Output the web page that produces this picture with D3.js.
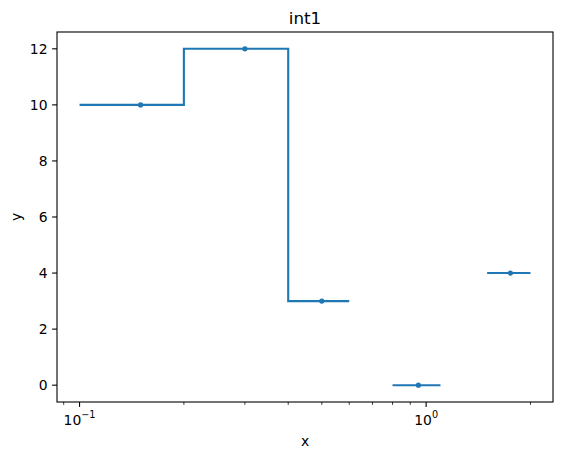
<!DOCTYPE html>
<html><head><meta charset="utf-8">
<script src="https://cdn.jsdelivr.net/npm/d3@7"></script>
<style>body{margin:0;background:#fff}svg{display:block}text{font-family:"DejaVu Sans",sans-serif;fill:#000}</style>
</head><body><svg id="c" width="562" height="459"></svg>
<script>
const binLo = [0.1, 0.2, 0.4, 0.8, 1.5];
const binHi = [0.2, 0.4, 0.6, 1.1, 2.0];
const values = [10, 12, 3, 0, 4];
const centers = [0.15, 0.3, 0.5, 0.95, 1.75];
const yTicks = [0, 2, 4, 6, 8, 10, 12];
const xMajor = [0.1, 1];
const xMajorExp = ["\u22121", "0"];
const xMinor = [0.09, 0.2, 0.3, 0.4, 0.5, 0.6, 0.7, 0.8, 0.9, 2];
const title = "int1", xLabel = "x", yLabel = "y";

const L = 57, R = 553, T = 32, B = 402;
const color = "#1f77b4";
const svg = d3.select("#c");

const lmin = Math.log10(d3.min(binLo)), lmax = Math.log10(d3.max(binHi));
const mx = (lmax - lmin) * 0.05;
const x = d3.scaleLog().domain([Math.pow(10, lmin - mx), Math.pow(10, lmax + mx)]).range([L, R]);
const vmin = d3.min(values), vmax = d3.max(values), my = (vmax - vmin) * 0.05;
const y = d3.scaleLinear().domain([vmin - my, vmax + my]).range([B, T]);

// step path with breaks at gaps
const pts = [];
for (let i = 0; i < values.length; i++) {
  if (i > 0 && binLo[i] !== binHi[i - 1]) pts.push(null);
  pts.push([binLo[i], values[i]]);
  pts.push([binHi[i], values[i]]);
}
const line = d3.line().defined(d => d !== null).x(d => x(d[0])).y(d => y(d[1]));
svg.append("path").attr("d", line(pts)).attr("fill", "none").attr("stroke", color)
  .attr("stroke-width", 2.1).attr("stroke-linejoin", "miter").attr("stroke-linecap", "butt");
svg.selectAll("circle.pt").data(centers).join("circle").attr("class", "pt")
  .attr("cx", d => x(d)).attr("cy", (d, i) => y(values[i])).attr("r", 2.6).attr("fill", color);

// frame
svg.append("rect").attr("x", L).attr("y", T).attr("width", R - L).attr("height", B - T)
  .attr("fill", "none").attr("stroke", "#000").attr("stroke-width", 1.1);

// x axis
const gx = svg.append("g");
gx.selectAll("line.maj").data(xMajor).join("line").attr("x1", d => x(d)).attr("x2", d => x(d))
  .attr("y1", B).attr("y2", B + 4.9).attr("stroke", "#000").attr("stroke-width", 1.1);
gx.selectAll("line.min").data(xMinor).join("line").attr("x1", d => x(d)).attr("x2", d => x(d))
  .attr("y1", B).attr("y2", B + 2.8).attr("stroke", "#000").attr("stroke-width", 0.8);
const xl = gx.selectAll("text").data(xMajor).join("text").attr("x", d => x(d)).attr("y", 425)
  .attr("text-anchor", "middle").attr("font-size", 13.9);
xl.append("tspan").text("10");
xl.append("tspan").attr("dy", -7).attr("font-size", 9.7).text((d, i) => xMajorExp[i]);

// y axis
const gy = svg.append("g");
gy.selectAll("line").data(yTicks).join("line").attr("x1", L - 4.9).attr("x2", L)
  .attr("y1", d => y(d)).attr("y2", d => y(d)).attr("stroke", "#000").attr("stroke-width", 1.1);
gy.selectAll("text").data(yTicks).join("text").attr("x", L - 9.5).attr("y", d => y(d) + 5)
  .attr("text-anchor", "end").attr("font-size", 13.9).text(d => d);

svg.append("text").attr("x", (L + R) / 2).attr("y", 24).attr("text-anchor", "middle")
  .attr("font-size", 16.7).text(title);
svg.append("text").attr("x", (L + R) / 2).attr("y", 446).attr("text-anchor", "middle")
  .attr("font-size", 13.9).text(xLabel);
svg.append("text").attr("transform", "translate(21," + ((T + B) / 2) + ") rotate(-90)")
  .attr("text-anchor", "middle").attr("font-size", 13.9).text(yLabel);
</script></body></html>
